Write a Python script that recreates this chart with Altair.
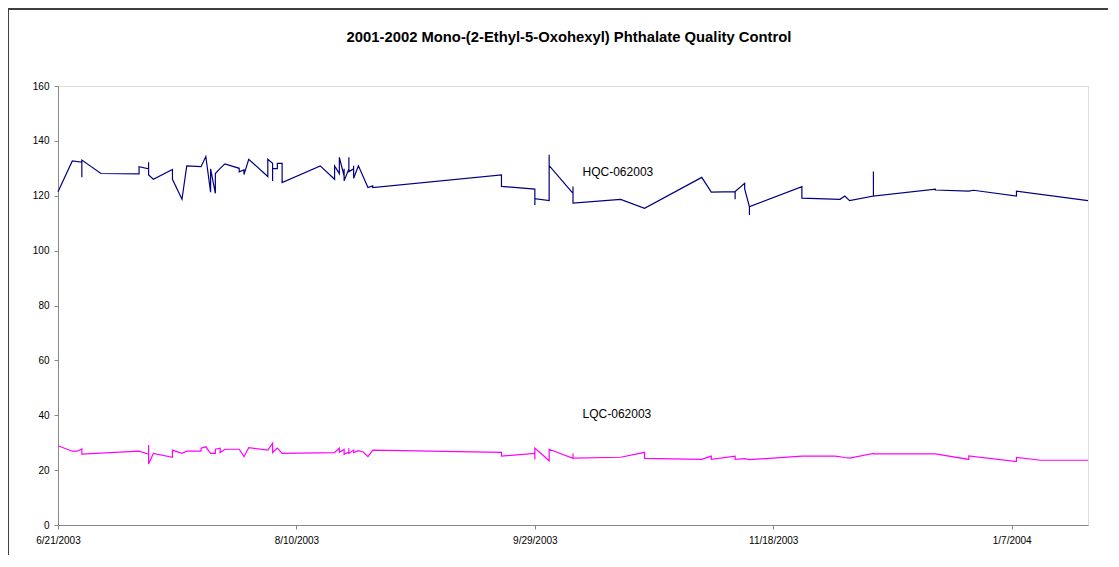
import altair as alt
import pandas as pd

title_text = "2001-2002 Mono-(2-Ethyl-5-Oxohexyl) Phthalate Quality Control"
series_names = ["HQC-062003", "LQC-062003"]
series_colors = ["#000080", "#FF00FF"]

hqc_dates = [
    "2003-06-21", "2003-06-24", "2003-06-26", "2003-06-26", "2003-06-26", "2003-06-30",
    "2003-07-08", "2003-07-08", "2003-07-10", "2003-07-10", "2003-07-10", "2003-07-11",
    "2003-07-15", "2003-07-15", "2003-07-17", "2003-07-18", "2003-07-21", "2003-07-22",
    "2003-07-23", "2003-07-23", "2003-07-24", "2003-07-24", "2003-07-25", "2003-07-26",
    "2003-07-29", "2003-07-29", "2003-07-30", "2003-07-30", "2003-07-31", "2003-08-04",
    "2003-08-04", "2003-08-05", "2003-08-05", "2003-08-05", "2003-08-06", "2003-08-06",
    "2003-08-07", "2003-08-07", "2003-08-15", "2003-08-18", "2003-08-18", "2003-08-19",
    "2003-08-19", "2003-08-20", "2003-08-20", "2003-08-20", "2003-08-21", "2003-08-21",
    "2003-08-21", "2003-08-21", "2003-08-22", "2003-08-22", "2003-08-22", "2003-08-23",
    "2003-08-25", "2003-08-26", "2003-08-26", "2003-09-22", "2003-09-22", "2003-09-29",
    "2003-09-29", "2003-09-29", "2003-10-02", "2003-10-02", "2003-10-02", "2003-10-07",
    "2003-10-07", "2003-10-07", "2003-10-17", "2003-10-22", "2003-11-03", "2003-11-05",
    "2003-11-10", "2003-11-10", "2003-11-10", "2003-11-12", "2003-11-12", "2003-11-13",
    "2003-11-13", "2003-11-13", "2003-11-24", "2003-11-24", "2003-12-02", "2003-12-03",
    "2003-12-04", "2003-12-09", "2003-12-09", "2003-12-09", "2003-12-22", "2003-12-22",
    "2003-12-29", "2003-12-30", "2004-01-08", "2004-01-08", "2004-01-23",
]
hqc_values = [
    121.5, 132.7, 132.2, 126.7, 133.0, 128.1,
    128.0, 130.6, 129.8, 132.2, 127.6, 126.0,
    129.6, 126.0, 118.7, 130.9, 130.6, 134.3,
    121.3, 129.8, 120.9, 128.1, 130.0, 131.6,
    130.0, 128.7, 129.4, 127.7, 133.3, 127.0,
    133.3, 131.8, 125.4, 129.9, 129.9, 131.8,
    131.8, 124.8, 130.9, 126.0, 130.9, 128.1,
    134.0, 127.2, 129.8, 125.5, 129.8, 128.8,
    134.0, 128.8, 129.8, 130.9, 126.4, 130.9,
    123.0, 123.6, 123.0, 127.6, 123.4, 122.4,
    116.6, 118.9, 118.2, 134.9, 131.0, 120.9,
    123.4, 117.3, 118.7, 115.4, 126.7, 121.3,
    121.5, 118.7, 121.5, 124.5, 122.5, 116.0,
    113.0, 116.0, 123.3, 119.1, 118.7, 119.9,
    118.2, 119.9, 128.8, 119.9, 122.4, 122.1,
    121.7, 122.0, 119.9, 121.7, 118.2,
]

lqc_dates = [
    "2003-06-21", "2003-06-24", "2003-06-25", "2003-06-26", "2003-06-26", "2003-07-08",
    "2003-07-10", "2003-07-10", "2003-07-10", "2003-07-11", "2003-07-15", "2003-07-15",
    "2003-07-17", "2003-07-18", "2003-07-21", "2003-07-21", "2003-07-22", "2003-07-23",
    "2003-07-24", "2003-07-24", "2003-07-25", "2003-07-25", "2003-07-26", "2003-07-29",
    "2003-07-30", "2003-07-31", "2003-08-04", "2003-08-05", "2003-08-05", "2003-08-06",
    "2003-08-07", "2003-08-18", "2003-08-19", "2003-08-19", "2003-08-20", "2003-08-20",
    "2003-08-21", "2003-08-21", "2003-08-21", "2003-08-22", "2003-08-22", "2003-08-23",
    "2003-08-24", "2003-08-25", "2003-08-26", "2003-09-22", "2003-09-22", "2003-09-29",
    "2003-09-29", "2003-09-29", "2003-10-02", "2003-10-02", "2003-10-07", "2003-10-07",
    "2003-10-07", "2003-10-17", "2003-10-22", "2003-10-22", "2003-11-03", "2003-11-05",
    "2003-11-05", "2003-11-10", "2003-11-10", "2003-11-12", "2003-11-13", "2003-11-24",
    "2003-12-01", "2003-12-03", "2003-12-04", "2003-12-09", "2003-12-09", "2003-12-22",
    "2003-12-29", "2003-12-29", "2004-01-08", "2004-01-08", "2004-01-13", "2004-01-23",
]
lqc_values = [
    28.9, 26.9, 26.9, 27.7, 25.8, 26.9,
    25.8, 29.2, 22.2, 26.1, 24.7, 27.3,
    26.1, 26.9, 26.9, 28.0, 28.5, 26.1,
    26.1, 27.6, 28.0, 26.4, 27.6, 27.6,
    24.9, 28.2, 27.3, 29.8, 26.4, 28.0,
    26.1, 26.4, 28.0, 26.5, 27.6, 25.8,
    26.6, 28.0, 26.1, 27.3, 26.4, 27.1,
    26.6, 24.9, 27.3, 26.5, 25.1, 26.1,
    23.9, 28.0, 23.4, 27.6, 24.3, 26.1,
    24.4, 24.7, 26.5, 24.3, 23.9, 25.1,
    23.9, 25.1, 23.9, 24.2, 23.8, 25.1,
    25.1, 24.6, 24.4, 26.1, 25.9, 25.9,
    23.9, 25.2, 23.1, 24.6, 23.6, 23.6,
]

x_tick_dates = [(2003, 6, 21), (2003, 8, 10), (2003, 9, 29), (2003, 11, 18), (2004, 1, 7)]
x_domain = [(2003, 6, 21), (2004, 1, 23)]
y_ticks = [0, 20, 40, 60, 80, 100, 120, 140, 160]

label_dates = ["2003-10-09", "2003-10-09"]
label_values = [128.8, 40.5]

rows = []
for i, (d, v) in enumerate(zip(hqc_dates, hqc_values)):
    rows.append({"date": d, "value": v, "series": series_names[0], "idx": i})
for i, (d, v) in enumerate(zip(lqc_dates, lqc_values)):
    rows.append({"date": d, "value": v, "series": series_names[1], "idx": i})
df = pd.DataFrame(rows)

labels_df = pd.DataFrame({"date": label_dates, "value": label_values, "text": series_names})
title_df = pd.DataFrame({"text": [title_text]})

def dt(t):
    return alt.DateTime(year=t[0], month=t[1], date=t[2], utc=True)

W, H = 1030, 439
PAD = {"left": 50, "top": 78, "right": 20, "bottom": 30}

x_enc = alt.X(
    "date:T",
    scale=alt.Scale(type="utc", domain=[dt(t) for t in x_domain]),
    axis=alt.Axis(values=[dt(t) for t in x_tick_dates], format="%-m/%-d/%Y", title=None,
                  labelPadding=6, tickSize=4, labelFlush=False, grid=False),
)
y_enc = alt.Y(
    "value:Q",
    scale=alt.Scale(domain=[0, 160], nice=False),
    axis=alt.Axis(values=y_ticks, title=None, tickSize=4, labelPadding=5, grid=False),
)

lines = alt.Chart(df).mark_line(strokeWidth=1.2).encode(
    x=x_enc,
    y=y_enc,
    color=alt.Color("series:N", scale=alt.Scale(domain=series_names, range=series_colors), legend=None),
    order=alt.Order("idx:Q"),
)

labels = alt.Chart(labels_df).mark_text(
    align="left", baseline="middle", font="Liberation Sans", fontSize=12, color="black"
).encode(x="date:T", y="value:Q", text="text:N")

title_mark = alt.Chart(title_df).mark_text(
    align="center", baseline="middle", font="Liberation Sans", fontSize=14.8,
    fontWeight="bold", color="black"
).encode(x=alt.value(511), y=alt.value(-48), text="text:N")

left_border = alt.Chart(title_df).mark_rule(color="#404040", strokeWidth=1).encode(
    x=alt.value(-PAD["left"] + 0.5), y=alt.value(-PAD["top"]), y2=alt.value(H + PAD["bottom"])
)
top_border = alt.Chart(title_df).mark_rule(color="#404040", strokeWidth=2).encode(
    x=alt.value(-PAD["left"]), x2=alt.value(W + PAD["right"]), y=alt.value(-PAD["top"] + 1)
)

chart = alt.layer(lines, labels, title_mark, left_border, top_border).properties(
    width=W,
    height=H,
    autosize=alt.AutoSizeParams(type="none"),
    padding=PAD,
).configure_view(stroke="#808080", strokeWidth=1).configure_axis(
    grid=False, domainColor="black", tickColor="black", labelColor="black",
    labelFont="Liberation Sans", labelFontSize=12, domainWidth=1,
).configure(background="white")

chart.save("out.html", embed_options={"renderer": "svg", "actions": False})
